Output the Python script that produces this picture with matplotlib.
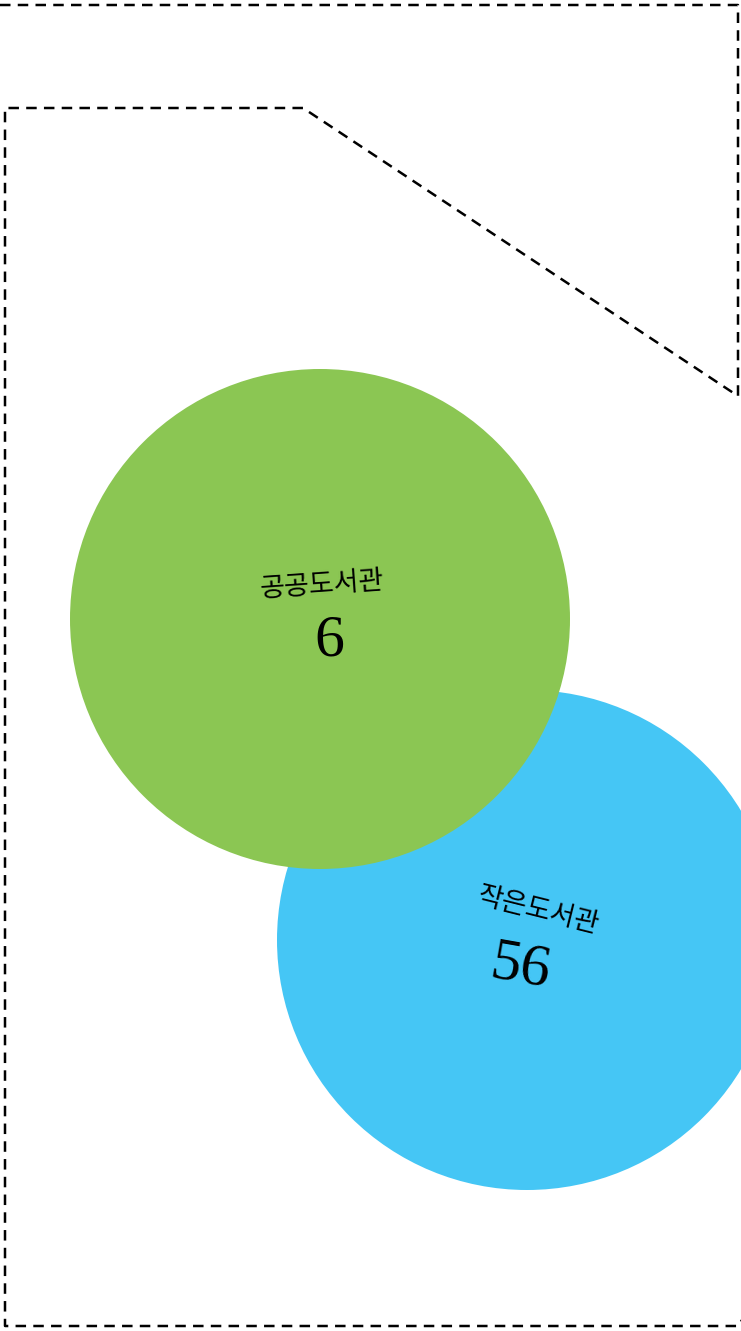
import matplotlib.pyplot as plt
from matplotlib.patches import Circle

# data
labels = ['공공도서관', '작은도서관']
counts = [6, 56]
colors = ['#8BC653', '#45C6F5']

# layout (pixel coords, y down)
centers = [(320, 619), (527, 940)]
radius = 250
label_rot = [4, -14]
num_rot = [0, -10]

W, H = 741, 1331
fig = plt.figure(figsize=(W / 100, H / 100), dpi=100)
ax = fig.add_axes([0, 0, 1, 1])
ax.set_xlim(0, W)
ax.set_ylim(H, 0)
ax.set_aspect('equal')
ax.axis('off')

# dashed region outline
outer_x = [0, 738, 738, 303, 5, 5, 738, 742]
outer_y = [5, 5, 396, 108, 108, 1326, 1326, 1320]
ax.plot(outer_x, outer_y, color='black', lw=1.8, linestyle=(0, (4.2, 2.9)),
        solid_joinstyle='miter', zorder=1)

# blue under green
for i in [1, 0]:
    cx, cy = centers[i]
    ax.add_patch(Circle((cx, cy), radius, facecolor=colors[i], edgecolor='none', zorder=2 + (1 - i)))

offsets = [((2, -34), (9, 22)), ((11, -29), (-7, 28))]
for i in range(2):
    cx, cy = centers[i]
    (lx, ly), (nx, ny) = offsets[i]
    ax.text(cx + lx, cy + ly, labels[i], family=['Noto Sans CJK KR', 'DejaVu Sans'],
            fontsize=19.5, rotation=label_rot[i], ha='center', va='center', zorder=5)
    ax.text(cx + nx, cy + ny, str(counts[i]), family=['Liberation Serif', 'DejaVu Serif'],
            fontsize=43, rotation=num_rot[i], ha='center', va='center', zorder=5)

fig.savefig('out.png', dpi=100)
